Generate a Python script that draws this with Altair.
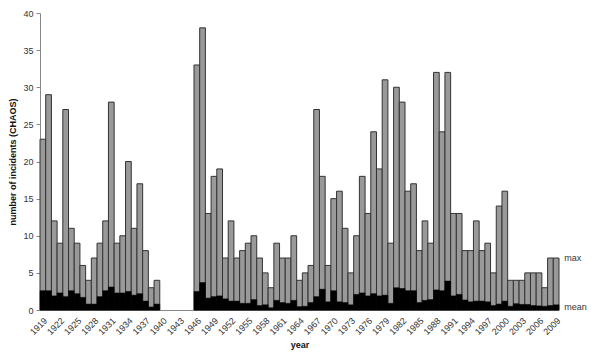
import altair as alt
import pandas as pd

years = list(range(1919, 2010))
max_vals = [23, 29, 12, 9, 27, 11, 9, 6, 4, 7, 9, 12, 28, 9, 10, 20, 11, 17, 8, 3, 4,
            0, 0, 0, 0, 0, 0,
            33, 38, 13, 18, 19, 7, 12, 7, 8, 9,
            10, 7, 5, 3, 9, 7, 7, 10, 4, 5,
            6, 27, 18, 6, 15, 16, 11, 5, 10, 18,
            13, 24, 19, 31, 9, 30, 28, 16, 17, 8,
            12, 9, 32, 24, 32, 13, 13, 8, 8, 12,
            8, 9, 5, 14, 16, 4, 4, 4, 5, 5,
            5, 3, 7, 7]
mean_vals = [2.6, 2.6, 1.9, 2.3, 1.8, 2.6, 2.2, 1.7, 0.8, 0.8, 1.8, 2.6, 3.1, 2.3, 2.3, 2.5, 2.0, 2.2, 1.2, 0.4, 0.8,
             0, 0, 0, 0, 0, 0,
             2.5, 3.7, 1.6, 1.8, 1.9, 1.5, 1.2, 1.2, 0.9, 0.9,
             1.4, 0.6, 0.7, 0.3, 1.3, 1.0, 0.9, 1.3, 0.45, 0.5,
             1.0, 1.8, 2.8, 1.1, 2.6, 1.1, 1.0, 0.7, 2.1, 2.3,
             1.9, 2.2, 1.9, 2.0, 0.9, 3.0, 2.9, 2.6, 2.6, 1.0,
             1.3, 1.4, 2.7, 2.6, 3.9, 1.9, 2.1, 1.35, 1.1, 1.2,
             1.2, 1.1, 0.6, 0.8, 1.2, 0.5, 0.85, 0.75, 0.75, 0.6,
             0.55, 0.5, 0.6, 0.7]
tick_years = list(range(1919, 2010, 3))
y_ticks = list(range(0, 41, 5))
note_labels = ["max", "mean"]
note_values = [7, 0.45]

df = pd.DataFrame({"year": years, "max": max_vals, "mean": mean_vals})
df = df[df["max"] > 0]
notes = pd.DataFrame({"year": [years[-1]] * 2, "label": note_labels, "v": note_values})

font = "Liberation Sans"
xscale = alt.Scale(domain=years, paddingInner=0, paddingOuter=0)
xaxis = alt.Axis(values=tick_years, title="year", labelAngle=-45, labelAlign="right",
                 labelBaseline="top", labelPadding=6, ticks=False,
                 domainColor="#888888", labelFont=font, labelFontSize=9,
                 labelColor="#333333", titleFont=font, titleFontSize=9,
                 titleFontWeight="bold", titleColor="#111111", titlePadding=4)
yscale = alt.Scale(domain=[0, 40])
yaxis = alt.Axis(values=y_ticks, grid=False, title="number of incidents (CHAOS)",
                 tickSize=4, tickColor="#888888", domainColor="#888888", labelPadding=3,
                 labelFont=font, labelFontSize=9, labelColor="#333333", labelOverlap=False,
                 titleFont=font, titleFontSize=9, titleFontWeight="bold",
                 titleColor="#111111", titlePadding=5)

base = alt.Chart(df)
bars_max = base.mark_bar(color="#999999", stroke="#333333", strokeWidth=1).encode(
    x=alt.X("year:O", scale=xscale, axis=xaxis),
    y=alt.Y("max:Q", scale=yscale, axis=yaxis))
bars_mean = base.mark_bar(color="#000000", stroke="#000000", strokeWidth=0.5).encode(
    x=alt.X("year:O", scale=xscale, axis=xaxis),
    y=alt.Y("mean:Q", scale=yscale, axis=yaxis))
text = alt.Chart(notes).mark_text(align="left", baseline="middle", dx=8, font=font,
                                   fontSize=9, color="#333333").encode(
    x=alt.X("year:O", scale=xscale, axis=xaxis),
    y=alt.Y("v:Q", scale=yscale, axis=yaxis), text="label:N")

chart = alt.layer(bars_max, bars_mean, text).properties(
    width=519, height=297,
    autosize=alt.AutoSizeParams(type="none"),
    padding={"left": 40, "top": 13, "right": 36, "bottom": 43},
    background="white",
).configure_view(stroke=None)

chart.save("out.html", embed_options={"renderer": "svg", "actions": False})
